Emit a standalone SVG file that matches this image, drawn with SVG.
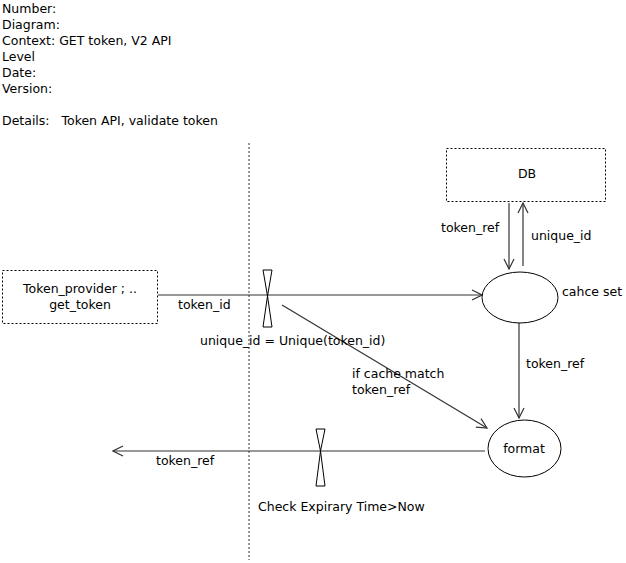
<svg xmlns="http://www.w3.org/2000/svg" width="626" height="563" viewBox="0 0 626 563">
  <style>
    text { font-family: "DejaVu Sans", sans-serif; font-size: 12.5px; fill: #000; }
    .mid { text-anchor: middle; }
    .box { fill: #fff; stroke: #000; stroke-width: 1; stroke-dasharray: 2 2; }
    .proc { fill: #fff; stroke: #000; stroke-width: 1; }
    .flow { fill: none; stroke: #333; stroke-width: 1.2; }
    .gate { fill: #fff; stroke: #000; stroke-width: 1; }
    .bound { stroke: #333; stroke-width: 1; stroke-dasharray: 2 2; }
  </style>
  <defs>
    <marker id="open" viewBox="0 0 12 12" refX="11" refY="6" markerWidth="12" markerHeight="12" markerUnits="userSpaceOnUse" orient="auto">
      <polyline points="1,1 11,6 1,11" fill="none" stroke="#333" stroke-width="1.2"/>
    </marker>
  </defs>

  <rect width="626" height="563" fill="#fff"/>

  <!-- header block -->
  <g id="header">
    <text x="2" y="13">Number:</text>
    <text x="2" y="29">Diagram:</text>
    <text x="2" y="45">Context: GET token, V2 API</text>
    <text x="2" y="61">Level</text>
    <text x="2" y="77">Date:</text>
    <text x="2" y="93">Version:</text>
    <text x="2" y="125" xml:space="preserve">Details:   Token API, validate token</text>
  </g>

  <!-- trust boundary -->
  <line class="bound" x1="249" y1="143" x2="249" y2="560"/>

  <g id="connectors">
    <line class="flow" x1="158" y1="295" x2="482" y2="295" marker-end="url(#open)"/>
    <line class="flow" x1="282" y1="305" x2="487" y2="428" marker-end="url(#open)"/>
    <line class="flow" x1="509" y1="203" x2="509" y2="269" marker-end="url(#open)"/>
    <line class="flow" x1="523" y1="266" x2="523" y2="203" marker-end="url(#open)"/>
    <line class="flow" x1="519" y1="323" x2="519" y2="418" marker-end="url(#open)"/>
    <line class="flow" x1="485" y1="451" x2="113" y2="451" marker-end="url(#open)"/>
    <text x="178" y="309">token_id</text>
    <text x="200" y="345">unique_id = Unique(token_id)</text>
    <text x="352" y="378">if cache match</text>
    <text x="352" y="394">token_ref</text>
    <text x="441" y="232">token_ref</text>
    <text x="531" y="240">unique_id</text>
    <text x="526" y="368">token_ref</text>
    <text x="156" y="465">token_ref</text>
    <text x="258" y="511">Check Expirary Time&gt;Now</text>
  </g>

  <g id="gate-unique">
    <polygon class="gate" points="263,270 272,270 267.5,296 272,327 263,327 267.5,296 263,270"/>
  </g>

  <g id="gate-expiry">
    <polygon class="gate" points="316,429 325,429 320.5,451 325,486 316,486 320.5,451 316,429"/>
  </g>

  <g id="token-provider">
    <rect class="box" x="2.5" y="270.5" width="155" height="53"/>
    <text class="mid" x="80" y="293">Token_provider ; ..</text>
    <text class="mid" x="80" y="309">get_token</text>
  </g>

  <g id="db">
    <rect class="box" x="446.5" y="148.5" width="159" height="53"/>
    <text class="mid" x="527" y="178">DB</text>
  </g>

  <g id="cache-set">
    <ellipse class="proc" cx="520" cy="297.5" rx="38" ry="25.5"/>
    <text x="562" y="296">cahce set</text>
  </g>

  <g id="format">
    <ellipse class="proc" cx="524.5" cy="448.5" rx="36.5" ry="28.5"/>
    <text class="mid" x="524" y="453">format</text>
  </g>
</svg>
